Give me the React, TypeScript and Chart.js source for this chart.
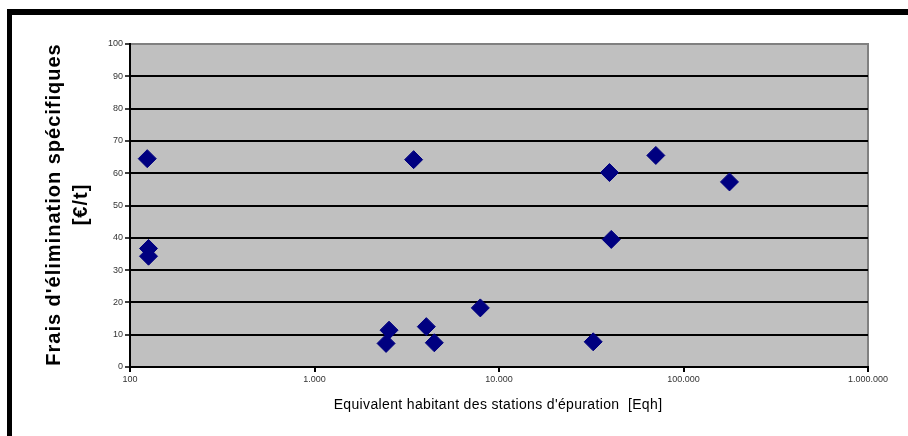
import React, { useEffect, useRef } from "react";
import { Chart, registerables } from "chart.js";

Chart.register(...registerables);

const inhabitants = [124, 126, 126, 3446, 2535, 2443, 4037, 4460, 7920, 39700, 70800, 177500, 40600, 32400];
const costs = [64.5, 36.7, 34.3, 64.2, 11.4, 7.3, 12.5, 7.5, 18.3, 60.2, 65.5, 57.3, 39.5, 7.8];
const xTicks = [100, 1000, 10000, 100000, 1000000];
const yTitleLines = ["Frais d'élimination spécifiques", "[€/t]"];
const xTitle = "Equivalent habitant des stations d'épuration  [Eqh]";

const fmt = (v: number) => String(v).replace(/\B(?=(\d{3})+(?!\d))/g, ".");

const decorPlugin = {
  id: "decor",
  beforeDraw(chart: any) {
    const { ctx, chartArea: a } = chart;
    ctx.save();
    ctx.fillStyle = "#ffffff";
    ctx.fillRect(0, 0, chart.width, chart.height);
    ctx.fillStyle = "#000000";
    ctx.fillRect(7, 9, chart.width, 6);
    ctx.fillRect(7, 9, 5, chart.height);
    ctx.fillStyle = "#c0c0c0";
    ctx.fillRect(a.left, a.top, a.right - a.left, a.bottom - a.top);
    ctx.strokeStyle = "#808080";
    ctx.lineWidth = 2;
    ctx.beginPath();
    ctx.moveTo(a.left, a.top);
    ctx.lineTo(a.right, a.top);
    ctx.lineTo(a.right, a.bottom);
    ctx.stroke();
    ctx.restore();
  },
  afterDraw(chart: any) {
    const { ctx, chartArea: a } = chart;
    ctx.save();
    ctx.fillStyle = "#000000";
    const cy = (a.top + a.bottom) / 2 - 1;
    ctx.translate(0, cy);
    ctx.rotate(-Math.PI / 2);
    ctx.textAlign = "center";
    ctx.textBaseline = "alphabetic";
    ctx.font = "bold 20px Arial, 'Liberation Sans', sans-serif";
    (ctx as any).letterSpacing = "1px";
    ctx.fillText(yTitleLines[0], 0, 60);
    ctx.fillText(yTitleLines[1], 0, 87);
    ctx.restore();
    ctx.save();
    ctx.fillStyle = "#000000";
    ctx.font = "14px Arial, 'Liberation Sans', sans-serif";
    (ctx as any).letterSpacing = "0.35px";
    ctx.textAlign = "center";
    ctx.textBaseline = "alphabetic";
    ctx.fillText(xTitle, 498, 409);
    ctx.restore();
  },
};

export default function App() {
  const ref = useRef<HTMLCanvasElement>(null);
  useEffect(() => {
    if (!ref.current) return;
    const chart = new Chart(ref.current, {
      type: "scatter",
      data: {
        datasets: [
          {
            data: inhabitants.map((x, i) => ({ x, y: costs[i] })),
            backgroundColor: "#000080",
            borderColor: "#000080",
            borderWidth: 1,
            pointStyle: "rectRot",
            pointRadius: 9,
          },
        ],
      },
      options: {
        animation: false,
        responsive: false,
        layout: { padding: { left: 0, top: 44, right: 40, bottom: 0 } },
        plugins: { legend: { display: false }, tooltip: { enabled: false } },
        scales: {
          x: {
            type: "logarithmic",
            min: 100,
            max: 1000000,
            afterBuildTicks: (s: any) => {
              s.ticks = xTicks.map((v) => ({ value: v }));
            },
            afterFit: (s: any) => {
              s.height = 69;
            },
            ticks: {
              callback: (v: any) => fmt(Number(v)),
              font: { family: "Arial, 'Liberation Sans', sans-serif", size: 9 },
              color: "#333333",
              maxRotation: 0,
              autoSkip: false,
              padding: 2,
            },
            grid: { drawOnChartArea: false, drawTicks: true, tickLength: 5, color: "#000000", lineWidth: 2 },
            border: { color: "#000000", width: 2 },
          },
          y: {
            min: 0,
            max: 100,
            afterFit: (s: any) => {
              s.width = 130;
            },
            ticks: {
              stepSize: 10,
              font: { family: "Arial, 'Liberation Sans', sans-serif", size: 9 },
              color: "#333333",
              padding: 2,
            },
            grid: {
              color: (c: any) => (c.tick && c.tick.value === 100 ? "#808080" : "#000000"),
              tickColor: "#000000",
              lineWidth: 2,
              tickWidth: 1.5,
              tickLength: 5,
            },
            border: { color: "#000000", width: 2 },
          },
        },
      },
      plugins: [decorPlugin],
    });
    return () => chart.destroy();
  }, []);
  return (
    <div style={{ position: "fixed", left: 0, top: 0, width: 908, height: 436, background: "#fff" }}>
      <canvas ref={ref} width={908} height={436} style={{ width: 908, height: 436, display: "block" }} />
    </div>
  );
}
